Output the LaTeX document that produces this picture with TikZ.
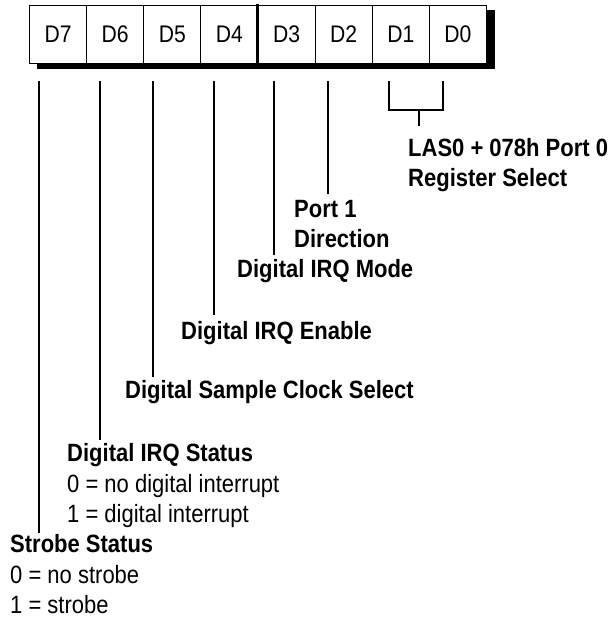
\documentclass[tikz,border=0pt]{standalone}
\usepackage{fontspec}
\setmainfont{Liberation Sans}[FakeStretch=0.88]
\begin{document}
\begin{tikzpicture}[x=1pt,y=-1pt,
  cell/.style={draw=black,line width=1pt,fill=white,minimum width=57.125pt,minimum height=58pt,inner sep=0pt,anchor=north west,font=\fontsize{24}{28}\selectfont},
  lbl/.style={anchor=base west,inner sep=0pt,font=\fontsize{25}{30}\selectfont\bfseries},
  val/.style={anchor=base west,inner sep=0pt,font=\fontsize{25}{30}\selectfont},
  lead/.style={line width=2pt}]
\useasboundingbox (0,0) rectangle (609,619);
% shadow
\fill[black] (37,10) rectangle (495,69);
% cells
\foreach \i/\t in {0/D7,1/D6,2/D5,3/D4,4/D3,5/D2,6/D1,7/D0}{
  \node[cell] (c\i) at ({29+57.125*\i},5) {\t};
}
\draw[line width=3pt] (257.5,3.5) -- (257.5,63);
% lead tops / ends
\coordinate (t7) at (39,81);  \coordinate (e7) at (39,533);
\coordinate (t6) at (100,81); \coordinate (e6) at (100,440);
\coordinate (t5) at (153,81); \coordinate (e5) at (153,377);
\coordinate (t4) at (214,81); \coordinate (e4) at (214,315);
\coordinate (t3) at (274,81); \coordinate (e3) at (274,255);
\coordinate (t2) at (328,81); \coordinate (e2) at (328,194);
\coordinate (b1) at (389,81); \coordinate (b0) at (443,81);
\coordinate (bs) at (419,110); \coordinate (be) at (419,126);
\draw[lead] (t7) -- (e7);
\draw[lead] (t6) -- (e6);
\draw[lead] (t5) -- (e5);
\draw[lead] (t4) -- (e4);
\draw[lead] (t3) -- (e3);
\draw[lead] (t2) -- (e2);
\draw[lead] (b1) |- (bs) -| (b0);
\draw[lead] (bs) -- (be);
% labels
\node[lbl] (las) at (408,156) {LAS0 + 078h Port 0};
\node[lbl] (reg) at (408,186) {Register Select};
\node[lbl] (p1) at (294,217) {Port 1};
\node[lbl] (dir) at (294,247) {Direction};
\node[lbl] (mode) at (237,277) {Digital IRQ Mode};
\node[lbl] (en) at (181,339) {Digital IRQ Enable};
\node[lbl] (clk) at (125,398) {Digital Sample Clock Select};
\node[lbl] (irq) at (67,461) {Digital IRQ Status};
\node[val] (irq0) at (67,492) {0 = no digital interrupt};
\node[val] (irq1) at (67,522) {1 = digital interrupt};
\node[lbl] (stb) at (10,552) {Strobe Status};
\node[val] (stb0) at (10,583) {0 = no strobe};
\node[val] (stb1) at (10,613) {1 = strobe};
\end{tikzpicture}
\end{document}
